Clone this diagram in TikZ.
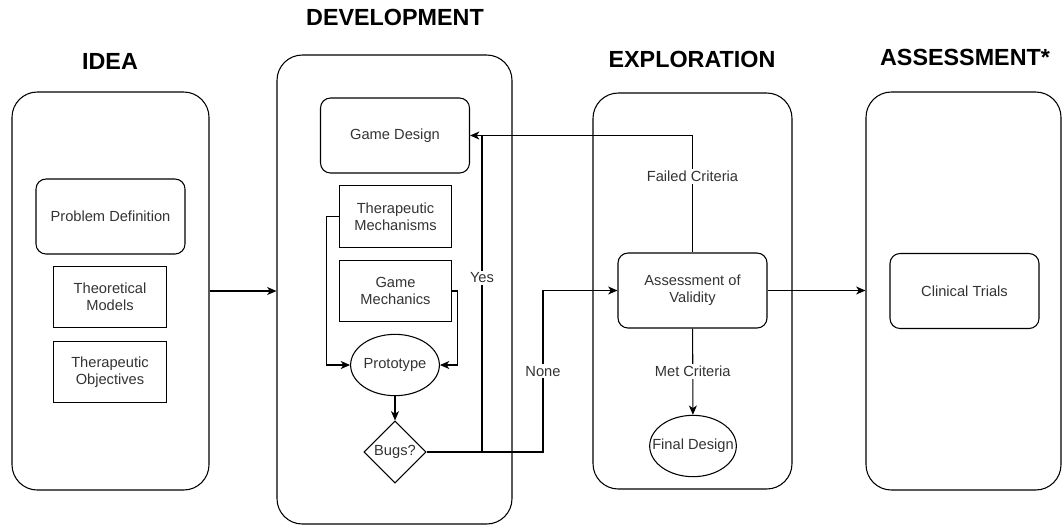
\documentclass[tikz,border=0pt]{standalone}
\usepackage{fontspec}
\setmainfont{Liberation Sans}
\usetikzlibrary{arrows.meta, positioning, shapes.geometric}

\begin{document}
\begin{tikzpicture} [x=0.75pt, y=-0.75pt, line width=0.8pt,
    font=\fontsize{11}{13}\selectfont,
    phase/.style={draw, rounded corners=19pt, minimum width=#1},
    title/.style={font=\fontsize{17.5}{20}\selectfont\bfseries},
    soft/.style={draw, rounded corners=7.5pt, minimum width=111.75pt, minimum height=56.25pt, text=black!80, align=center},
    plain/.style={draw, minimum width=84.5pt, minimum height=46pt, text=black!80, align=center},
    oval/.style={draw, ellipse, inner sep=0pt, minimum width=65pt, minimum height=46pt, text=black!80},
    tag/.style={fill=white, inner sep=1.5pt, text=black!80},
    tip/.style={-{Stealth[length=7pt, width=6pt, inset=2pt]}}]
    \useasboundingbox (0,0) rectangle (1062,526);

    % phases
    \node (idea) [phase=147.75pt, minimum height=298.5pt] at (110.5,291) {};
    \node (dev) [phase=176.25pt, minimum height=351.75pt] at (394.5,289.5) {};
    \node (expl) [phase=149.25pt, minimum height=297pt] at (692.5,291) {};
    \node (assp) [phase=146.25pt, minimum height=298.5pt] at (963.5,291) {};
    \node [title] at (110,61) {IDEA};
    \node [title] at (395,17) {DEVELOPMENT};
    \node [title] at (692,59) {EXPLORATION};
    \node [title] at (965,57) {ASSESSMENT*};

    % idea
    \node (prob) [soft] at (110.5,216.5) {Problem Definition};
    \node (theo) [plain] at (110,297) {Theoretical\\Models};
    \node (obj) [plain] at (110,372) {Therapeutic\\Objectives};

    % development
    \node (gd) [soft] at (395,135.5) {Game Design};
    \node (mech) [plain] at (395.5,216.5) {Therapeutic\\Mechanisms};
    \node (gmech) [plain] at (395.5,291) {Game\\Mechanics};
    \node (proto) [oval] at (395,365) {Prototype};
    \node (bugs) [draw, diamond, aspect=1, inner sep=0pt, minimum size=46.5pt, text=black!80] at (395,452) {Bugs?};

    % exploration
    \node (valid) [soft] at (692.5,290.5) {Assessment of\\Validity};
    \node (final) [oval, label={[text=black!80]center:Final Design}] at (693,446) {};

    % assessment
    \node (trials) [soft] at (964.5,291) {Clinical Trials};

    \coordinate (yes) at (482,452);
    \coordinate (none) at (543,452);

    \path [tip]
    (idea.east) edge (idea.east -| dev.west)
    (valid.east) edge (valid.east -| assp.west)
    (proto) edge (bugs)
    (valid) edge node [tag] {Met Criteria} (final);

    \draw [tip] (mech.west) -- ++(-12,0) |- (proto.west);
    \draw [tip] (gmech.east) -- ++(5,0) |- (proto.east);
    \draw [tip] (bugs.east) -- (none) -- node [tag] {None} (none |- valid.west) -- (valid.west);
    \draw (yes) -- node [tag, pos=0.55] {Yes} (yes |- gd.east);
    \draw [tip] (valid.north) -- node [tag, pos=0.65] {Failed Criteria} (valid.north |- gd.east) -- (gd.east);

\end{tikzpicture}
\end{document}
